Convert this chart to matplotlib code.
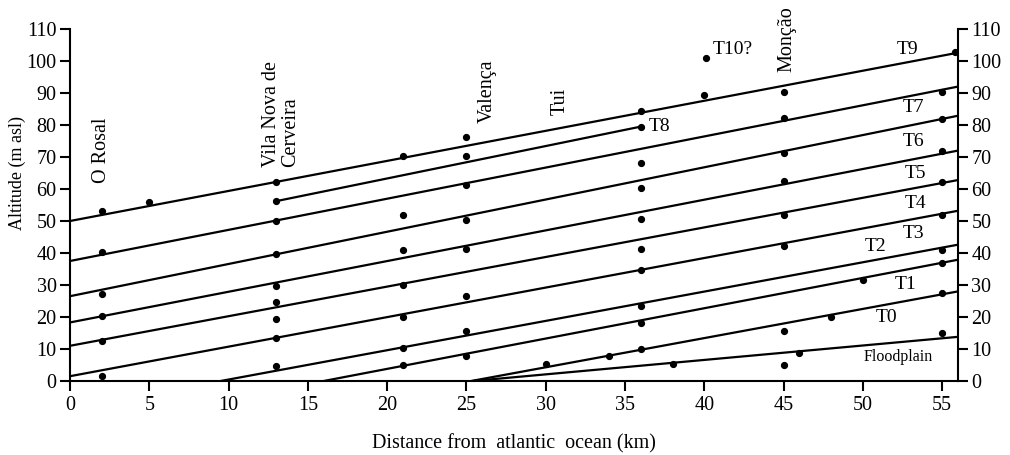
#!/usr/bin/env python
""" plot.py
Minho terrace levels vs distance from the atlantic ocean.
"""
import numpy as np
import matplotlib
matplotlib.use('Agg')
import matplotlib.pyplot as plt

plt.rcParams['font.family'] = ['Liberation Serif', 'DejaVu Serif']

# terrace lines: (x start, y start) -> (x end, y end)
line_x0 = [0.0, 13.0, 0.0, 0.0, 0.0, 0.0, 0.0, 9.5, 16.0, 25.3, 25.4]
line_y0 = [50.0, 56.2, 37.5, 26.5, 18.3, 11.0, 1.5, 0.0, 0.0, 0.0, 0.0]
line_x1 = [56.0, 36.0, 56.0, 56.0, 56.0, 56.0, 56.0, 56.0, 56.0, 56.0, 56.0]
line_y1 = [102.6, 79.5, 92.0, 82.9, 72.0, 62.8, 53.2, 42.6, 37.9, 28.0, 13.8]

# observed terrace levels
pts_x = [2, 2, 2, 2, 2, 2, 5,
         13, 13, 13, 13, 13, 13, 13, 13, 13,
         21, 21, 21, 21, 21, 21, 21,
         25, 25, 25, 25, 25, 25, 25, 25,
         30, 34,
         36, 36, 36, 36, 36, 36, 36, 36, 36, 36,
         38, 40, 40.1,
         45, 45, 45, 45, 45, 45, 45, 45,
         46, 48, 50,
         55, 55, 55, 55, 55, 55, 55, 55, 55, 55.8]
pts_y = [53.0, 40.2, 27.1, 20.2, 12.4, 1.7, 55.8,
         62.3, 56.4, 49.9, 39.7, 29.6, 24.7, 19.4, 13.4, 4.8,
         70.4, 52.0, 41.0, 29.9, 19.9, 10.3, 4.9,
         76.3, 70.4, 61.1, 50.4, 41.3, 26.7, 15.5, 7.9,
         5.4, 7.9,
         84.3, 79.5, 68.2, 60.2, 50.5, 41.3, 34.8, 23.3, 18.1, 10.0,
         5.4, 89.5, 101.0,
         90.3, 82.2, 71.2, 62.6, 51.8, 42.1, 15.5, 5.1,
         8.9, 19.9, 31.7,
         90.2, 82.0, 71.8, 62.1, 52.0, 40.8, 36.9, 27.5, 15.0, 102.8]

# terrace labels
lab_text = ['T10?', 'T9', 'T8', 'T7', 'T6', 'T5', 'T4', 'T3', 'T2', 'T1', 'T0']
lab_x = [40.5, 52.8, 36.5, 53.2, 53.2, 53.3, 53.3, 53.2, 50.8, 52.7, 51.5]
lab_y = [103.5, 103.5, 79.5, 85.6, 74.9, 65.0, 55.4, 46.0, 42.1, 30.1, 19.7]

# place names (rotated)
town_text = ['O Rosal', 'Vila Nova de\nCerveira', 'Valença', 'Tui', 'Monção']
town_x = [2.0, 13.3, 26.3, 30.9, 45.2]
town_y = [62.0, 67.0, 80.6, 83.2, 96.7]

fig = plt.figure(figsize=(10.1, 4.55), dpi=100)
ax = fig.add_axes([70/1010, 74/455, 888/1010, 352/455])

for x0, y0, x1, y1 in zip(line_x0, line_y0, line_x1, line_y1):
    ax.plot([x0, x1], [y0, y1], color='black', lw=1.6, solid_capstyle='butt')
ax.plot(pts_x, pts_y, 'o', color='black', ms=4.2, ls='none')

for t, x, y in zip(lab_text, lab_x, lab_y):
    ha = 'left' if t in ('T10?', 'T8') else 'center'
    ax.text(x, y, t, ha=ha, va='center', fontsize=14)
ax.text(52.2, 7.4, 'Floodplain', ha='center', va='center', fontsize=11.5)

for t, x, y in zip(town_text, town_x, town_y):
    ax.text(x, y, t, rotation=90, ha='center', va='bottom',
            multialignment='left', fontsize=14.5, linespacing=1.0)

ax.set_xlim(0, 56)
ax.set_ylim(0, 110)
ax.set_xticks(np.arange(0, 56, 5))
ax.set_yticks(np.arange(0, 111, 10))
ax.spines['top'].set_visible(False)
for s in ('left', 'right', 'bottom'):
    ax.spines[s].set_linewidth(1.5)
ax.tick_params(axis='both', direction='out', length=7.2, width=1.5,
               labelsize=14.5, pad=2.5)
ax.tick_params(axis='x', pad=3.5)
ax.tick_params(axis='y', right=True, labelright=True)
ax.set_xlabel('Distance from  atlantic  ocean (km)', fontsize=14.5)
ax.xaxis.set_label_coords(0.5, -0.15)
ax.set_ylabel('Altitude (m asl)', fontsize=13)
ax.yaxis.set_label_coords(-0.05, 0.59)

fig.savefig('out.png', dpi=100)
